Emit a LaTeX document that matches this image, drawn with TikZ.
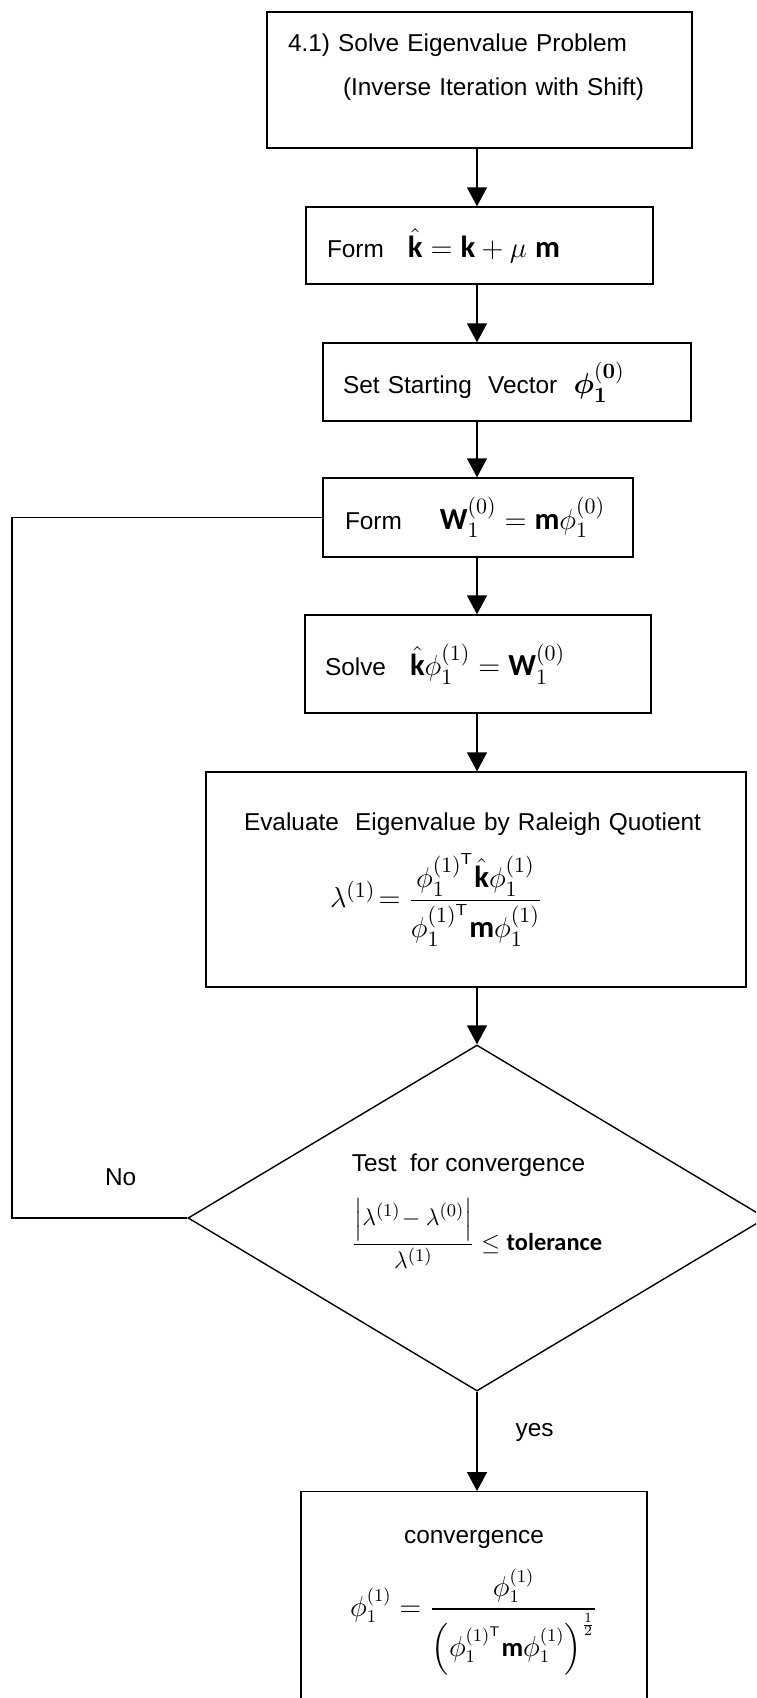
\documentclass[tikz,border=0pt]{standalone}
\usepackage{amsmath}
\usepackage[no-math]{fontspec}
\setmainfont{Liberation Sans}
\newfontfamily\calib{Carlito}
\usetikzlibrary{arrows.meta,shapes.geometric}
\newcommand{\vk}{\mbox{\calib\bfseries k}}
\newcommand{\vm}{\mbox{\calib\bfseries m}}
\newcommand{\vW}{\mbox{\calib\bfseries W}}
\newcommand{\ph}[1]{\phi_1^{(#1)}}
\newcommand{\phT}{\phi_1^{(1)^{\mathsf{T}}}}
\newcommand{\bigmath}[1]{{\fontsize{15.3}{18}\selectfont$#1$}}
\begin{document}
\begin{tikzpicture}[
    x=0.5pt, y=-0.5pt,
    font=\fontsize{12.2}{15}\selectfont,
    box/.style={draw, line width=0.7pt, inner ysep=0pt, align=left},
    decision/.style={draw, diamond, line width=0.7pt, inner sep=0pt,
                     aspect=1.67, align=left},
    arr/.style={-{Triangle[length=9.5pt,width=10pt]}, line width=0.7pt},
    lbl/.style={inner sep=0pt}]
  \fill[white] (0,0) rectangle (756,1698);
  \clip (0,0) rectangle (756,1698);
  % boxes, top to bottom
  \node[box, inner xsep=10.5pt, text width=191.5pt, minimum height=68pt] (solve) at (479.5,80)
    {4.1) Solve Eigenvalue Problem\\[7pt]\hspace*{27.5pt}(Inverse Iteration with Shift)\rule[-15.5pt]{0pt}{1pt}};
  \node[box, inner xsep=10.5pt, text width=152.5pt, minimum height=38.5pt] (formk) at (479.5,245.5)
    {Form\hspace{12pt}\bigmath{\hat{\vk} = \vk + \mu\ \vm}};
  \node[box, inner xsep=10pt, text width=164pt, minimum height=39pt] (start) at (507,382)
    {Set Starting\ \ Vector\ \ \bigmath{\boldsymbol{\phi}_{\boldsymbol{1}}^{(\boldsymbol{0})}}};
  \node[box, inner xsep=11pt, text width=133pt, minimum height=39.5pt] (formw) at (478,517.5)
    {Form\hspace{19pt}\bigmath{\vW_1^{(0)} = \vm\ph0}};
  \node[box, inner xsep=10pt, text width=153pt, minimum height=49pt] (solvek) at (478,664)
    {Solve\hspace{12pt}\bigmath{\hat{\vk}\ph1 = \vW_1^{(0)}}};
  \node[box, inner xsep=19pt, text width=232pt, minimum height=107.5pt] (rayleigh) at (476,879.5)
    {Evaluate\ \ Eigenvalue by Raleigh Quotient\\[8pt]
     \hspace*{43pt}\bigmath{\lambda^{(1)}\!= \dfrac{\phT\hat{\vk}\ph1}{\phT\vm\ph1}}\rule[-12pt]{0pt}{1pt}};
  % convergence test
  \node[decision, minimum width=289pt, minimum height=173pt] (test) at (477,1218)
    {Test\ \ for convergence\\[10pt]
     $\dfrac{\left|\lambda^{(1)}\!- \lambda^{(0)}\right|}{\lambda^{(1)}} \le
      \text{\calib\bfseries tolerance}$\rule[-16pt]{0pt}{1pt}};
  \node[box, align=center, anchor=north, inner xsep=0pt, minimum width=173pt,
        minimum height=111pt] (norm) at (474,1491)
    {convergence\\[9pt]
     {\fontsize{13.3}{16}\selectfont
     $\ph1 = \dfrac{\ph1}{\left(\phT\vm\ph1\right)^{\frac{1}{2}}}$}};
  % connectors
  \coordinate (back) at (12,517);
  \draw[arr] (solve.south -| test) -- (formk.north -| test);
  \draw[arr] (formk.south -| test) -- (start.north -| test);
  \draw[arr] (start.south -| test) -- (formw.north -| test);
  \draw[arr] (formw.south -| test) -- (solvek.north -| test);
  \draw[arr] (solvek.south -| test) -- (rayleigh.north -| test);
  \draw[arr] (rayleigh.south -| test) -- (test.north);
  \draw[arr] (test.south) -- (norm.north -| test)
    node[lbl, pos=0.41, right=19pt] (yes) {yes};
  \draw[line width=0.7pt] (test.west) -- (test.west -| back)
    node[lbl, pos=0.38, above=16pt] (no) {No} |- (formw.west);
\end{tikzpicture}
\end{document}
